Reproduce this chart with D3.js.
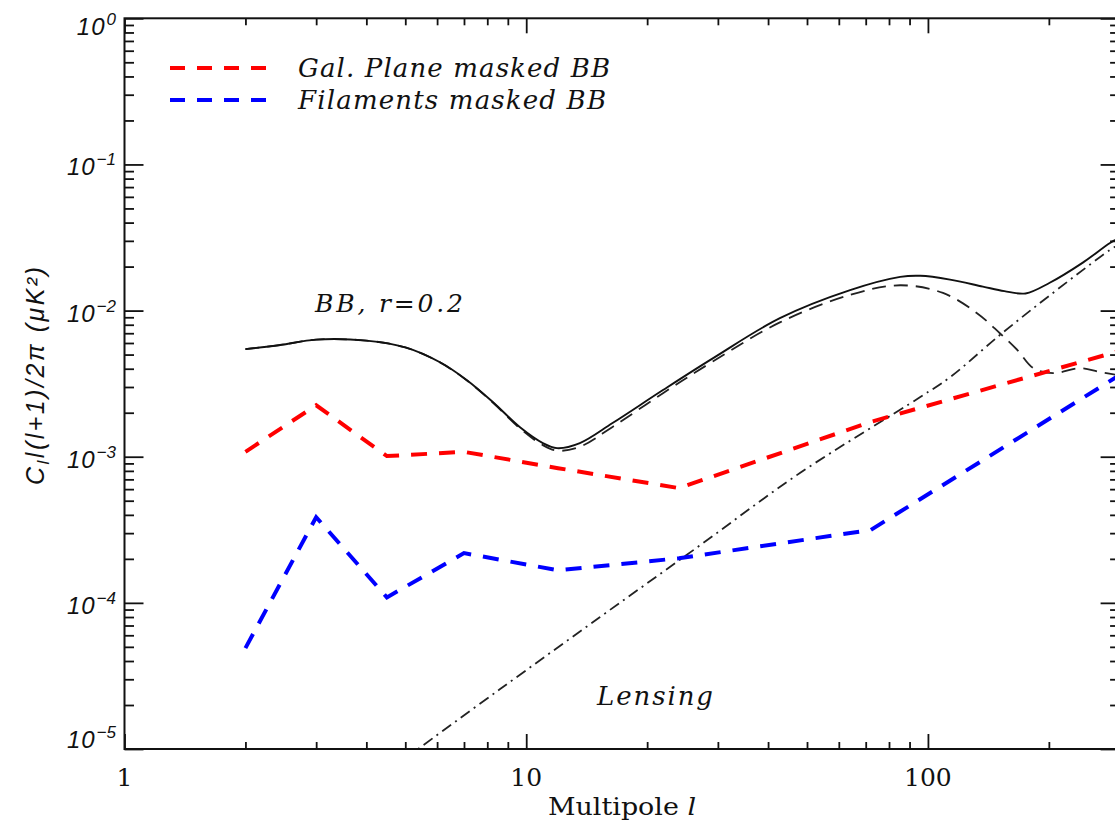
<!DOCTYPE html>
<html>
<head>
<meta charset="utf-8">
<script src="https://cdn.jsdelivr.net/npm/d3@7"></script>
<style>
  html, body { margin: 0; padding: 0; background: #fff; }
  svg { display: block; }
</style>
</head>
<body>
<svg id="chart" width="1115" height="822"></svg>
<script>
// ---------------- DATA ----------------
// Masked-foreground bins (multipole l)
const binL = [2, 3, 4.5, 7, 12, 24, 72, 300];
const galPlaneBB = [1.08e-3, 2.25e-3, 1.01e-3, 1.08e-3, 8.35e-4, 6.1e-4, 1.73e-3, 5.3e-3];
const filamentsBB = [4.9e-5, 3.86e-4, 1.09e-4, 2.19e-4, 1.67e-4, 2.02e-4, 3.15e-4, 3.62e-3];

// Total BB (r=0.2), solid
const totalL = [2, 2.44, 3, 4, 5, 6.1, 7.12, 8.27, 9.65, 11, 11.93, 13.6, 16.4, 21.9, 29.2, 42.8, 64, 85.3, 95.7, 113.5, 137, 155, 175, 201, 243, 284, 300];
const totalBB = [5.45e-3, 5.81e-3, 6.33e-3, 6.23e-3, 5.6e-3, 4.43e-3, 3.34e-3, 2.36e-3, 1.59e-3, 1.24e-3, 1.145e-3, 1.24e-3, 1.70e-3, 2.86e-3, 4.73e-3, 8.87e-3, 1.38e-2, 1.70e-2, 1.73e-2, 1.63e-2, 1.46e-2, 1.36e-2, 1.31e-2, 1.55e-2, 2.13e-2, 2.9e-2, 3.15e-2];

// Primordial (tensor) BB, dashed
const tensorL = [2, 2.44, 3, 4, 5, 6.1, 7.12, 8.27, 9.65, 11, 11.93, 13.6, 16.4, 21.9, 29.2, 42.8, 64, 85.3, 109, 132.5, 151, 167, 183, 205, 239, 268, 300];
const tensorBB = [5.45e-3, 5.81e-3, 6.33e-3, 6.23e-3, 5.6e-3, 4.42e-3, 3.32e-3, 2.34e-3, 1.56e-3, 1.20e-3, 1.10e-3, 1.17e-3, 1.60e-3, 2.72e-3, 4.50e-3, 8.3e-3, 1.28e-2, 1.49e-2, 1.32e-2, 9.6e-3, 7.0e-3, 5.37e-3, 4.04e-3, 3.73e-3, 4.04e-3, 3.8e-3, 3.6e-3];

// Lensing BB, dash-dot
const lensL = [5.0, 5.38, 8.61, 15.27, 27.1, 48.0, 95.7, 113.5, 151, 201, 284, 300];
const lensBB = [8.6e-6, 1.0e-5, 2.57e-5, 8.0e-5, 2.48e-4, 7.73e-4, 2.56e-3, 3.5e-3, 6.8e-3, 1.27e-2, 2.6e-2, 2.85e-2];

// Axis ticks and labels
const xMajorTicks = [1, 10, 100];
const xTickLabels = ["1", "10", "100"];
const xMinorTicks = [2, 3, 4, 5, 6, 7, 8, 9, 20, 30, 40, 50, 60, 70, 80, 90, 200];
const yMajorTicks = [1, 1e-1, 1e-2, 1e-3, 1e-4, 1e-5];
const yTickExponents = ["0", "\u22121", "\u22122", "\u22123", "\u22124", "\u22125"];
const yMinorTicks = [];
[1e-5, 1e-4, 1e-3, 1e-2, 1e-1].forEach(d => { for (let m = 2; m <= 9; m++) yMinorTicks.push(m * d); });

const legendLabels = ["Gal. Plane masked BB", "Filaments masked BB"];
const legendColors = ["#ff0000", "#0000ff"];

// ---------------- LAYOUT ----------------
const pLeft = 124.5, pRight = 1119.6, pTop = 18.3, pBottom = 749;
const svg = d3.select("#chart");

const x = d3.scaleLog().domain([1, 300]).range([pLeft, pRight]);
const y = d3.scaleLog().domain([1e-5, 1]).range([pBottom, pTop]);

const sansItalic = "'Liberation Sans', Arial, Helvetica, sans-serif";
const serif = "'DejaVu Serif', serif";

svg.append("defs").append("clipPath").attr("id", "plotclip")
  .append("rect").attr("x", pLeft).attr("y", pTop).attr("width", pRight - pLeft).attr("height", pBottom - pTop);

const plot = svg.append("g").attr("clip-path", "url(#plotclip)");

const makeLine = (curve) => d3.line().x(d => x(d[0])).y(d => y(d[1])).curve(curve);
const zip = (a, b) => a.map((v, i) => [v, b[i]]);
const smooth = d3.curveCatmullRom.alpha(0.5);

// Lensing (dash-dot)
plot.append("path").attr("d", makeLine(smooth)(zip(lensL, lensBB)))
  .attr("fill", "none").attr("stroke", "#222").attr("stroke-width", 1.8)
  .attr("stroke-dasharray", "11,5,2,5");

// Tensor (dashed)
plot.append("path").attr("d", makeLine(smooth)(zip(tensorL, tensorBB)))
  .attr("fill", "none").attr("stroke", "#222").attr("stroke-width", 1.8)
  .attr("stroke-dasharray", "14,8");

// Total (solid)
plot.append("path").attr("d", makeLine(smooth)(zip(totalL, totalBB)))
  .attr("fill", "none").attr("stroke", "#111").attr("stroke-width", 1.9);

// Gal plane masked (red dashed)
plot.append("path").attr("d", makeLine(d3.curveLinear)(zip(binL, galPlaneBB)))
  .attr("fill", "none").attr("stroke", legendColors[0]).attr("stroke-width", 4)
  .attr("stroke-dasharray", "16,12");

// Filaments masked (blue dashed)
plot.append("path").attr("d", makeLine(d3.curveLinear)(zip(binL, filamentsBB)))
  .attr("fill", "none").attr("stroke", legendColors[1]).attr("stroke-width", 4)
  .attr("stroke-dasharray", "16,12");

// ---------------- AXES ----------------
const axisStyle = g => {
  g.select(".domain").remove();
  g.selectAll("line").attr("stroke", "#111").attr("stroke-width", 1.8);
  g.selectAll("text").remove();
};

svg.append("g").attr("transform", `translate(${pLeft},0)`)
  .call(d3.axisLeft(y).tickValues(yMajorTicks).tickSize(-19).tickFormat("")).call(axisStyle);
svg.append("g").attr("transform", `translate(${pLeft},0)`)
  .call(d3.axisLeft(y).tickValues(yMinorTicks).tickSize(-9.5).tickFormat("")).call(axisStyle);
svg.append("g").attr("transform", `translate(${pRight},0)`)
  .call(d3.axisRight(y).tickValues(yMajorTicks).tickSize(-19).tickFormat("")).call(axisStyle);
svg.append("g").attr("transform", `translate(${pRight},0)`)
  .call(d3.axisRight(y).tickValues(yMinorTicks).tickSize(-9.5).tickFormat("")).call(axisStyle);

svg.append("g").attr("transform", `translate(0,${pBottom})`)
  .call(d3.axisBottom(x).tickValues(xMajorTicks).tickSize(-15).tickFormat("")).call(axisStyle);
svg.append("g").attr("transform", `translate(0,${pBottom})`)
  .call(d3.axisBottom(x).tickValues(xMinorTicks).tickSize(-7).tickFormat("")).call(axisStyle);
svg.append("g").attr("transform", `translate(0,${pTop})`)
  .call(d3.axisTop(x).tickValues(xMajorTicks).tickSize(-15).tickFormat("")).call(axisStyle);
svg.append("g").attr("transform", `translate(0,${pTop})`)
  .call(d3.axisTop(x).tickValues(xMinorTicks).tickSize(-7).tickFormat("")).call(axisStyle);

// frame
svg.append("rect").attr("x", pLeft).attr("y", pTop).attr("width", pRight - pLeft).attr("height", pBottom - pTop)
  .attr("fill", "none").attr("stroke", "#111").attr("stroke-width", 2);

// y tick labels (10^n)
yMajorTicks.forEach((v, i) => {
  let dy = 11;
  if (i === 0) dy = 17;
  if (i === yMajorTicks.length - 1) dy = -1;
  const t = svg.append("text")
    .attr("x", 116).attr("y", y(v) + dy)
    .attr("text-anchor", "end")
    .attr("font-family", sansItalic).attr("font-style", "italic")
    .attr("font-size", 24).attr("fill", "#111");
  t.append("tspan").attr("letter-spacing", 1).text("10");
  t.append("tspan").attr("font-size", 17).attr("dy", -10).attr("dx", 1).text(yTickExponents[i]);
});

// x tick labels
xMajorTicks.forEach((v, i) => {
  svg.append("text").attr("x", x(v)).attr("y", 786)
    .attr("text-anchor", "middle")
    .attr("font-family", serif).attr("font-size", 25).attr("fill", "#111")
    .text(xTickLabels[i]);
});

// axis titles
const xt = svg.append("text").attr("x", 548).attr("y", 815)
  .attr("font-family", serif).attr("font-size", 25).attr("fill", "#111")
  .attr("textLength", 148).attr("lengthAdjust", "spacingAndGlyphs");
xt.append("tspan").text("Multipole ");
xt.append("tspan").attr("font-style", "italic").text("l");

const yt = svg.append("text")
  .attr("transform", "translate(44,485) rotate(-90)")
  .attr("font-family", sansItalic).attr("font-style", "italic")
  .attr("font-size", 25).attr("fill", "#111")
  .attr("textLength", 218).attr("lengthAdjust", "spacing");
yt.append("tspan").text("C");
yt.append("tspan").attr("font-size", 17).attr("dy", 5).text("l");
yt.append("tspan").attr("dy", -5).text("l(l+1)/2\u03c0 (\u03bcK\u00b2)");

// annotations
svg.append("text").attr("x", 315).attr("y", 312)
  .attr("font-family", serif).attr("font-style", "italic").attr("font-size", 25).attr("fill", "#111")
  .attr("textLength", 148).attr("lengthAdjust", "spacing")
  .text("BB,  r=0.2");
svg.append("text").attr("x", 597).attr("y", 705)
  .attr("font-family", serif).attr("font-style", "italic").attr("font-size", 26).attr("fill", "#111")
  .attr("textLength", 116).attr("lengthAdjust", "spacing")
  .text("Lensing");

// legend
const legendWidths = [312, 308];
legendLabels.forEach((lab, i) => {
  const ly = 68 + i * 32;
  svg.append("line").attr("x1", 170).attr("x2", 267).attr("y1", ly).attr("y2", ly)
    .attr("stroke", legendColors[i]).attr("stroke-width", 4).attr("stroke-dasharray", "15,12");
  svg.append("text").attr("x", 298).attr("y", ly + 9)
    .attr("font-family", serif).attr("font-style", "italic").attr("font-size", 26).attr("fill", "#111")
    .attr("textLength", legendWidths[i]).attr("lengthAdjust", "spacing")
    .text(lab);
});
</script>
</body>
</html>
